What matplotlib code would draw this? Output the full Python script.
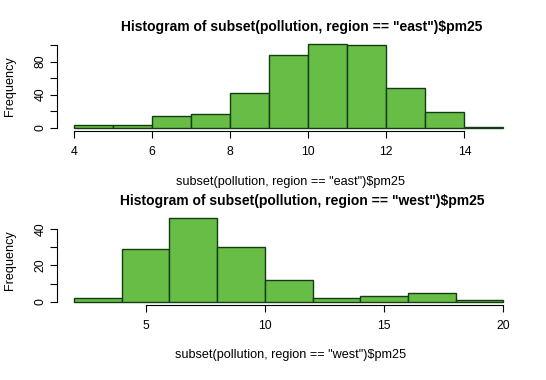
import matplotlib
matplotlib.use("Agg")
import matplotlib.pyplot as plt
import numpy as np

plt.rcParams['font.family'] = ['Liberation Sans', 'DejaVu Sans']

# east: bin edges and counts
east_edges = [4, 5, 6, 7, 8, 9, 10, 11, 12, 13, 14, 15]
east_counts = [3, 3, 14, 17, 42, 88, 101, 100, 48, 19, 1]
east_xticks = [4, 6, 8, 10, 12, 14]
east_yticks = [0, 20, 40, 60, 80, 100]
east_ylabels = ['0', '', '40', '', '80', '']

# west
west_edges = [2, 4, 6, 8, 10, 12, 14, 16, 18, 20]
west_counts = [2, 29, 46, 30, 12, 2, 3, 5, 1]
west_xticks = [5, 10, 15, 20]
west_yticks = [0, 10, 20, 30, 40]
west_ylabels = ['0', '', '20', '', '40']

fill = '#67bd45'
edge = '#143d14'

fig = plt.figure(figsize=(5.46, 3.80), dpi=100)

panels = [
    (east_edges, east_counts, east_xticks, east_yticks, east_ylabels, 'east',
     [56.8, 40.8, 520.6, 131.0], 27, 182),
    (west_edges, west_counts, west_xticks, west_yticks, west_ylabels, 'west',
     [56.8, 215.1, 520.6, 305.0], 201, 355),
]

W, H = 546, 380
for edges, counts, xt, yt, yl, name, box, ty, xy in panels:
    x0, y0, x1, y1 = box
    ax = fig.add_axes([x0 / W, 1 - y1 / H, (x1 - x0) / W, (y1 - y0) / H])
    edges = np.array(edges)
    ax.bar(edges[:-1], counts, width=np.diff(edges), align='edge',
           color=fill, edgecolor=edge, linewidth=1.0)
    rng = edges[-1] - edges[0]
    ax.set_xlim(edges[0] - 0.04 * rng, edges[-1] + 0.04 * rng)
    top = max(counts)
    ax.set_ylim(-0.04 * top, top * 1.04)
    for s in ['top', 'right']:
        ax.spines[s].set_visible(False)
    ax.spines['left'].set_bounds(yt[0], yt[-1])
    ax.spines['bottom'].set_bounds(xt[0], xt[-1])
    ax.set_xticks(xt)
    ax.set_xticklabels([str(v) for v in xt])
    ax.set_yticks(yt)
    ax.set_yticklabels(yl, rotation=90, va='center')
    ax.tick_params(axis='both', direction='out', length=5, width=0.8,
                   labelsize=8.8, colors='black')
    ax.tick_params(axis='x', pad=6)
    ax.tick_params(axis='y', pad=2.5)
    fig.text(302 / W, 1 - ty / H,
             'Histogram of subset(pollution, region == "%s")$pm25' % name,
             ha='center', va='center', fontsize=10.0, fontweight='bold')
    fig.text(291 / W, 1 - xy / H,
             'subset(pollution, region == "%s")$pm25' % name,
             ha='center', va='center', fontsize=9.1)
    fig.text(10 / W, 1 - (y0 + y1) / 2 / H, 'Frequency', rotation=90,
             ha='center', va='center', fontsize=9.1)

fig.savefig('out.png', dpi=100)
